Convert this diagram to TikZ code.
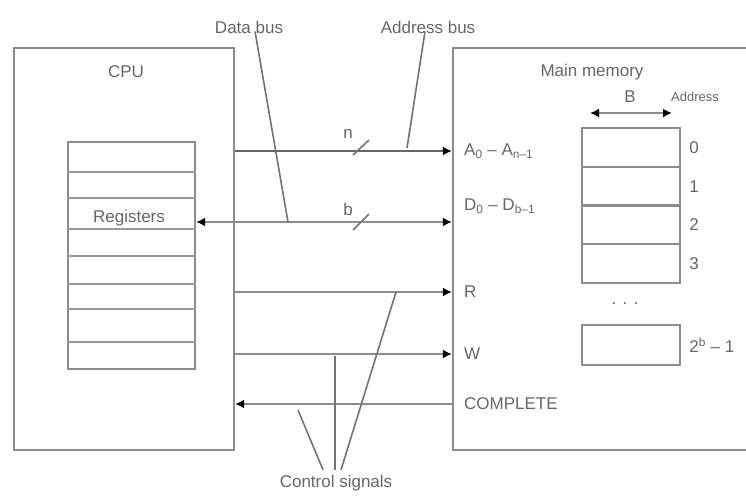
\documentclass[tikz,border=0pt]{standalone}
\usepackage{fontspec}
\setmainfont{Liberation Sans}
\usetikzlibrary{arrows.meta,positioning,calc}

\begin{document}
\begin{tikzpicture}[
    x=1pt, y=-1pt,
    blk/.style={draw=black!45, line width=2.2pt, inner sep=0pt},
    lbl/.style={text=black!60, font=\fontsize{17}{19}\selectfont, inner sep=1pt},
    sml/.style={text=black!60, font=\fontsize{13}{15}\selectfont, inner sep=1pt},
    bus/.style={draw=black!45, line width=2.2pt},
    arr/.style={-{Latex[length=9pt,width=9pt,color=black]}},
    darr/.style={{Latex[length=9pt,width=9pt,color=black]}-{Latex[length=9pt,width=9pt,color=black]}},
    lead/.style={draw=black!55, line width=1.6pt}
]
\clip (0,0) rectangle (746,496);

% the two units
\node[blk, minimum width=220pt, minimum height=402pt] (cpu) at (124,249) {};
\node[blk, minimum width=347pt, minimum height=402pt] (mem) at (626.5,249) {};
\node[lbl] (cpulbl) at (126,72) {CPU};
\node[lbl] (memlbl) at (592,72) {Main memory};

% registers
\node[blk, minimum width=127pt, minimum height=227pt] (regs) at (131.5,255.5) {};
\foreach \ry in {172,198,229,256,284,309,342}
    \draw[blk, line width=1.8pt, draw=black!40] (regs.west |- 0,\ry) -- (regs.east |- 0,\ry);
\node[lbl] (reglbl) at (129,218) {Registers};

% memory words
\node[blk, minimum width=98pt, minimum height=155pt] (cells) at (631,205.5) {};
\foreach \k in {1,2,3}
    \draw[blk] (cells.west |- 0,{128+38.75*\k}) -- (cells.east |- 0,{128+38.75*\k});
\foreach \k in {0,...,3}
    \node[lbl] (adr\k) at (694,{147.4+38.75*\k}) {\k};
\node[lbl] (dots) at (625,304) {. . .};
\node[blk, minimum width=98pt, minimum height=40pt] (lastcell) at (631,345) {};
\node[lbl, right=7pt of lastcell] (lastadr) {2\textsuperscript{b} -- 1};
\coordinate (bl) at (590,113);
\coordinate (br) at (672,113);
\draw[bus, darr] (bl) -- (br);
\node[lbl] (blbl) at (630,97) {B};
\node[sml] (adrlbl) at (695,97) {Address};

% signal names at the memory side
\node[lbl, anchor=west] (asig) at (463,151) {A\textsubscript{0} -- A\textsubscript{n--1}};
\node[lbl, anchor=west] (dsig) at (463,206) {D\textsubscript{0} -- D\textsubscript{b--1}};
\node[lbl, anchor=west] (rsig) at (463,292) {R};
\node[lbl, anchor=west] (wsig) at (463,354) {W};
\node[lbl, anchor=west] (csig) at (463,404) {COMPLETE};

% bus lines
\coordinate (yd) at (0,222);
\draw[bus, arr, draw=black!60] (cpu.east |- asig) -- (mem.west |- asig);
\draw[bus, darr] (regs.east |- yd) -- (mem.west |- yd);
\draw[bus, arr] (cpu.east |- rsig) -- (mem.west |- rsig);
\draw[bus, arr] (cpu.east |- wsig) -- (mem.west |- wsig);
\draw[bus, arr] (mem.west |- csig) -- (cpu.east |- csig);

% width marks
\draw[lead] (353,155) -- (369,140);
\node[lbl] (nlbl) at (348,134) {n};
\draw[lead] (353,230) -- (369,214);
\node[lbl] (bwlbl) at (348,209) {b};

% bus labels
\node[lbl] (dlbl) at (249,27) {Data bus};
\node[lbl] (albl) at (428,27) {Address bus};
\node[lbl] (clbl) at (336,483) {Control signals};
\draw[lead] (dlbl.south) ++(6,-3) -- (288,222);
\draw[lead] (albl.south) ++(-3,-3) -- (407,148);
\draw[lead] (clbl.north) ++(-13,-4) -- (298,410);
\draw[lead] (clbl.north) ++(-1,-4) -- (335,356);
\draw[lead] (clbl.north) ++(5,-4) -- (396,292);
\end{tikzpicture}
\end{document}
